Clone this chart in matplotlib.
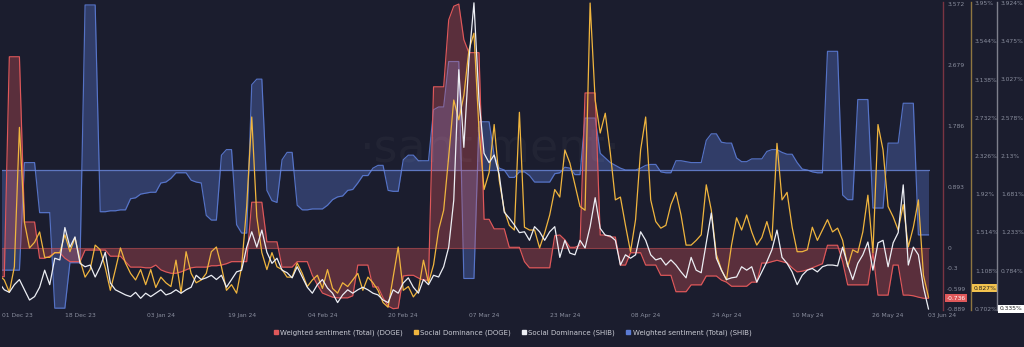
import matplotlib
matplotlib.use('Agg')
import matplotlib.pyplot as plt
import matplotlib.dates as mdates
import matplotlib.transforms as mtransforms
from matplotlib.lines import Line2D
import pandas as pd

# daily values, 02 Dec 23 .. 03 Jun 24
start_date = '2023-12-02'

doge_sentiment = [
    -0.42, -0.42, 2.80, 2.80, 2.80, 0.38, 0.38, 0.38, -0.15, -0.15,
    -0.12, -0.07, -0.07, -0.15, -0.20, -0.20, -0.20, -0.03, -0.03, -0.03,
    -0.03, -0.03, -0.12, -0.12, -0.12, -0.20, -0.28, -0.28, -0.28, -0.29,
    -0.29, -0.25, -0.32, -0.35, -0.37, -0.37, -0.35, -0.32, -0.29, -0.28,
    -0.28, -0.28, -0.26, -0.26, -0.25, -0.23, -0.20, -0.20, -0.20, -0.20,
    0.67, 0.67, 0.67, 0.09, 0.09, 0.09, -0.28, -0.28, -0.28, -0.20,
    -0.20, -0.20, -0.40, -0.54, -0.66, -0.69, -0.72, -0.73, -0.73, -0.73,
    -0.70, -0.25, -0.25, -0.25, -0.57, -0.57, -0.73, -0.85, -0.889, -0.88,
    -0.41, -0.40, -0.40, -0.44, -0.47, -0.47, 2.36, 2.36, 2.36, 3.34,
    3.54, 3.572, 3.05, 2.86, 2.86, 2.86, 0.42, 0.42, 0.28, 0.28,
    0.28, 0.01, 0.01, 0.01, -0.20, -0.29, -0.29, -0.29, -0.29, -0.29,
    0.18, 0.19, 0.12, 0.01, 0.01, 0.04, 2.27, 2.27, 2.27, 0.19,
    0.19, 0.16, 0.16, -0.25, -0.25, -0.07, -0.07, -0.07, -0.25, -0.25,
    -0.25, -0.40, -0.40, -0.40, -0.64, -0.64, -0.64, -0.54, -0.54, -0.54,
    -0.41, -0.41, -0.41, -0.47, -0.50, -0.56, -0.56, -0.56, -0.56, -0.50,
    -0.50, -0.22, -0.22, -0.20, -0.18, -0.20, -0.22, -0.29, -0.35, -0.34,
    -0.32, -0.29, -0.26, -0.23, 0.04, 0.04, 0.04, -0.20, -0.54, -0.54,
    -0.54, -0.54, -0.54, -0.07, -0.69, -0.69, -0.69, -0.25, -0.25, -0.69,
    -0.69, -0.70, -0.72, -0.736, -0.736,
]

doge_dominance = [
    1.06, 1.01, 0.88, 1.15, 2.63, 1.62, 1.35, 1.41, 1.52, 1.25,
    1.25, 1.30, 1.30, 1.49, 1.31, 1.46, 1.22, 1.04, 1.12, 1.38,
    1.33, 1.14, 0.90, 1.12, 1.35, 1.19, 1.08, 1.01, 1.12, 0.96,
    1.12, 0.93, 1.04, 0.98, 0.94, 1.22, 0.87, 1.31, 1.08, 0.98,
    1.01, 1.08, 1.31, 1.36, 1.15, 0.90, 0.96, 0.87, 1.15, 1.79,
    2.74, 1.68, 1.30, 1.12, 1.30, 1.15, 1.12, 1.04, 1.04, 1.19,
    1.08, 0.94, 1.01, 1.06, 0.92, 1.12, 0.92, 0.87, 0.98, 0.94,
    1.01, 1.08, 0.90, 1.04, 0.98, 0.90, 0.77, 0.72, 1.04, 1.36,
    0.90, 0.94, 0.83, 0.90, 1.22, 0.98, 1.17, 1.54, 1.75, 2.32,
    2.92, 2.71, 2.97, 3.45, 3.63, 2.60, 1.97, 2.15, 2.66, 2.07,
    1.75, 1.59, 1.54, 2.79, 1.57, 1.54, 1.54, 1.35, 1.51, 1.70,
    1.97, 1.89, 2.39, 2.25, 2.02, 1.79, 1.75, 3.95, 2.92, 2.57,
    2.78, 2.36, 1.86, 1.89, 1.59, 1.31, 1.65, 2.39, 2.74, 1.86,
    1.63, 1.56, 1.59, 1.81, 1.94, 1.70, 1.38, 1.38, 1.43, 1.49,
    2.02, 1.75, 1.28, 1.12, 1.01, 1.38, 1.67, 1.54, 1.70, 1.52,
    1.38, 1.46, 1.63, 1.43, 2.46, 1.86, 1.94, 1.57, 1.31, 1.31,
    1.33, 1.57, 1.43, 1.54, 1.65, 1.52, 1.56, 1.43, 1.15, 1.33,
    1.30, 1.52, 1.91, 1.30, 2.66, 2.39, 1.79, 1.68, 1.54, 1.81,
    1.36, 1.57, 1.86, 1.06, 0.827,
]

shib_dominance = [
    0.64, 0.56, 0.53, 0.62, 0.68, 0.56, 0.44, 0.48, 0.59, 0.79,
    0.62, 0.93, 0.91, 1.29, 1.06, 1.18, 0.87, 0.83, 0.85, 0.71,
    0.83, 1.00, 0.64, 0.56, 0.53, 0.50, 0.48, 0.53, 0.46, 0.52,
    0.48, 0.52, 0.56, 0.50, 0.52, 0.56, 0.52, 0.56, 0.59, 0.73,
    0.68, 0.70, 0.73, 0.68, 0.73, 0.59, 0.68, 0.77, 0.79, 1.06,
    1.24, 1.06, 1.26, 1.00, 0.87, 0.93, 0.79, 0.76, 0.70, 0.83,
    0.71, 0.59, 0.52, 0.62, 0.68, 0.58, 0.52, 0.41, 0.50, 0.56,
    0.52, 0.56, 0.59, 0.56, 0.52, 0.50, 0.44, 0.41, 0.56, 0.52,
    0.64, 0.70, 0.59, 0.52, 0.68, 0.62, 0.73, 0.71, 0.83, 1.06,
    1.61, 3.14, 2.23, 3.25, 3.924, 2.78, 2.16, 2.05, 2.14, 1.91,
    1.47, 1.40, 1.32, 1.23, 1.24, 1.14, 1.30, 1.24, 1.14, 1.24,
    1.30, 0.94, 1.14, 0.99, 0.97, 1.14, 1.05, 1.30, 1.64, 1.28,
    1.20, 1.19, 1.14, 0.85, 0.97, 0.93, 0.97, 1.24, 1.14, 0.97,
    0.91, 0.93, 0.85, 0.91, 0.85, 0.77, 0.70, 0.94, 0.79, 0.76,
    1.11, 1.46, 0.93, 0.79, 0.68, 0.70, 0.71, 0.83, 0.79, 0.83,
    0.65, 0.77, 0.89, 1.03, 1.26, 0.94, 0.87, 0.77, 0.62, 0.73,
    0.79, 0.81, 0.77, 0.83, 0.85, 0.85, 0.84, 1.06, 0.85, 0.68,
    0.87, 0.97, 1.12, 0.79, 1.11, 1.14, 0.83, 1.11, 1.23, 1.79,
    0.85, 1.06, 0.97, 0.59, 0.335,
]

# SHIB sentiment: its axis is hidden in the source, units are relative
shib_sentiment = [
    -1.08, -1.08, -1.08, -1.08, -1.08, 0.08, 0.08, 0.08, -0.46, -0.46,
    -0.46, -1.49, -1.49, -1.49, -1.00, -1.00, -1.00, 1.78, 1.78, 1.78,
    -0.45, -0.45, -0.44, -0.44, -0.43, -0.43, -0.31, -0.30, -0.26, -0.25,
    -0.24, -0.24, -0.14, -0.13, -0.09, -0.03, -0.03, -0.03, -0.11, -0.13,
    -0.14, -0.49, -0.54, -0.54, 0.16, 0.22, 0.22, -0.59, -0.68, -0.68,
    0.92, 0.98, 0.98, -0.22, -0.33, -0.35, 0.11, 0.19, 0.19, -0.38,
    -0.43, -0.43, -0.42, -0.42, -0.42, -0.38, -0.32, -0.29, -0.28, -0.22,
    -0.21, -0.14, -0.06, -0.06, 0.02, 0.05, 0.05, -0.22, -0.23, -0.23,
    0.11, 0.16, 0.16, 0.10, 0.10, 0.10, 0.65, 0.68, 0.68, 1.17,
    1.17, 1.17, -1.17, -1.17, -1.17, 0.52, 0.52, 0.52, 0.16, 0.02,
    0.00, -0.08, -0.08, -0.02, -0.02, -0.06, -0.13, -0.13, -0.13, -0.13,
    -0.04, -0.03, 0.03, 0.02, -0.05, -0.05, 0.56, 0.56, 0.56, 0.18,
    0.13, 0.08, 0.05, 0.02, 0.00, 0.00, 0.00, 0.02, 0.05, 0.06,
    0.06, -0.02, -0.03, -0.03, 0.10, 0.10, 0.09, 0.08, 0.08, 0.08,
    0.32, 0.39, 0.39, 0.30, 0.29, 0.29, 0.13, 0.09, 0.09, 0.12,
    0.12, 0.12, 0.20, 0.22, 0.22, 0.19, 0.17, 0.17, 0.08, 0.01,
    0.00, -0.02, -0.03, -0.03, 1.28, 1.28, 1.28, -0.27, -0.32, -0.32,
    0.76, 0.76, 0.76, -0.41, -0.41, -0.41, 0.29, 0.29, 0.29, 0.72,
    0.72, 0.72, -0.70, -0.70, -0.70,
]

tick_dates = ['2023-12-18', '2024-01-03', '2024-01-19', '2024-02-04', '2024-02-20',
              '2024-03-07', '2024-03-23', '2024-04-08', '2024-04-24', '2024-05-10',
              '2024-05-26']
edge_labels = ['01 Dec 23', '03 Jun 24']

doge_sent_ticks = [3.572, 2.679, 1.786, 0.893, 0, -0.3, -0.599, -0.889]
doge_dom_ticks = [0.702, 1.108, 1.514, 1.92, 2.326, 2.732, 3.138, 3.544, 3.95]
shib_dom_ticks = [0.784, 1.233, 1.681, 2.13, 2.578, 3.027, 3.475, 3.924]

legend_labels = ['Weighted sentiment (Total) (DOGE)', 'Social Dominance (DOGE)',
                 'Social Dominance (SHIB)', 'Weighted sentiment (Total) (SHIB)']

bg = '#1b1d2e'
red = '#e0585a'
yellow = '#f0b53e'
white = '#eceef4'
blue = '#5b7bd5'
tick_col = '#8a8e9e'

dates = pd.date_range(start_date, periods=len(doge_sentiment))
x = mdates.date2num(dates)

fig = plt.figure(figsize=(10.24, 3.47), dpi=100, facecolor=bg)
ax = fig.add_axes([2 / 1024, 1 - 310 / 347, 928 / 1024, 308 / 347])
ax.set_facecolor(bg)

# watermark
fig.text(0.478, 0.57, '\u00b7santiment\u00b7', fontsize=33, color='white', alpha=0.03,
         ha='center', va='center')

# SHIB weighted sentiment (hidden axis)
ax.fill_between(x, shib_sentiment, 0, color=blue, alpha=0.35, lw=0)
ax.plot(x, shib_sentiment, color=blue, lw=0.85, alpha=0.9)
ax.axhline(0, color='#6d8be0', lw=0.9, alpha=0.8)
ax.set_ylim(-1.51, 1.812)
ax.set_yticks([])

# DOGE weighted sentiment
ax_red = ax.twinx()
ax_red.fill_between(x, doge_sentiment, 0, color=red, alpha=0.32, lw=0)
ax_red.plot(x, doge_sentiment, color=red, lw=0.85)
ax_red.axhline(0, color=red, lw=0.8, alpha=0.5)
ax_red.set_ylim(-0.908, 3.602)

# social dominance lines
ax_yel = ax.twinx()
ax_yel.plot(x, doge_dominance, color=yellow, lw=0.9)
ax_yel.set_ylim(0.691, 3.961)

ax_wht = ax.twinx()
ax_wht.plot(x, shib_dominance, color=white, lw=0.9)
ax_wht.set_ylim(0.323, 3.934)

ax.set_xlim(x[0] + 0.55, x[0] + 184.3)

for a in [ax, ax_red, ax_yel, ax_wht]:
    for s in ['left', 'top', 'bottom', 'right']:
        a.spines[s].set_visible(False)

spine_setup = [(ax_red, 1.014, '#7a3442', doge_sent_ticks, [f'{v:g}' for v in doge_sent_ticks]),
               (ax_yel, 1.044, '#8f7640', doge_dom_ticks, [f'{v:g}%' for v in doge_dom_ticks]),
               (ax_wht, 1.072, '#7e808c', shib_dom_ticks, [f'{v:g}%' for v in shib_dom_ticks])]
for a, pos, col, ticks, labels in spine_setup:
    a.spines['right'].set_visible(True)
    a.spines['right'].set_position(('axes', pos))
    a.spines['right'].set_color(col)
    a.spines['right'].set_linewidth(1.0)
    a.set_yticks(ticks)
    a.set_yticklabels(labels)
    a.tick_params(axis='y', length=0, pad=3, labelsize=4.3, labelcolor=tick_col)

# x axis
ax.set_xticks(mdates.date2num(pd.to_datetime(tick_dates)))
ax.set_xticklabels([d.strftime('%d %b %y') for d in pd.to_datetime(tick_dates)])
ax.tick_params(axis='x', length=0, pad=2, labelsize=4.3, labelcolor=tick_col)
ax.text(0.0, -0.009, edge_labels[0], transform=ax.transAxes, ha='left', va='top',
        fontsize=4.3, color=tick_col)
ax.text(0.998, -0.009, edge_labels[1], transform=ax.transAxes, ha='left', va='top',
        fontsize=4.3, color=tick_col)

# last value badges
tr = mtransforms.blended_transform_factory(ax_red.transAxes, ax_red.transData)
ax_red.text(1.018, doge_sentiment[-1], f'{doge_sentiment[-1]:g}', transform=tr, ha='left',
            va='center', fontsize=4.3, color='white',
            bbox=dict(boxstyle='square,pad=0.25', fc=red, ec='none'))
tr = mtransforms.blended_transform_factory(ax_yel.transAxes, ax_yel.transData)
ax_yel.annotate(f'{doge_dominance[-1]:g}%', xy=(1.047, doge_dominance[-1]), xycoords=tr,
                xytext=(0, 6.5), textcoords='offset points', ha='left', va='center',
                fontsize=4.3, color='#222222',
                bbox=dict(boxstyle='square,pad=0.25', fc='#f2c24e', ec='none'))
tr = mtransforms.blended_transform_factory(ax_wht.transAxes, ax_wht.transData)
ax_wht.text(1.075, shib_dominance[-1], f'{shib_dominance[-1]:g}%', transform=tr, ha='left',
            va='center', fontsize=4.3, color='#222222',
            bbox=dict(boxstyle='square,pad=0.25', fc='white', ec='none'))

# legend
handles = [Line2D([], [], marker='s', ls='none', color=c, markersize=3.5)
           for c in [red, yellow, white, blue]]
fig.legend(handles, legend_labels, loc='center', bbox_to_anchor=(0.5, 1 - 333 / 347),
           ncol=4, frameon=False, fontsize=5, labelcolor='#c9cbd4', handletextpad=0.1,
           columnspacing=1.4, handlelength=1.0)

fig.savefig('out.png', dpi=100, facecolor=bg)
